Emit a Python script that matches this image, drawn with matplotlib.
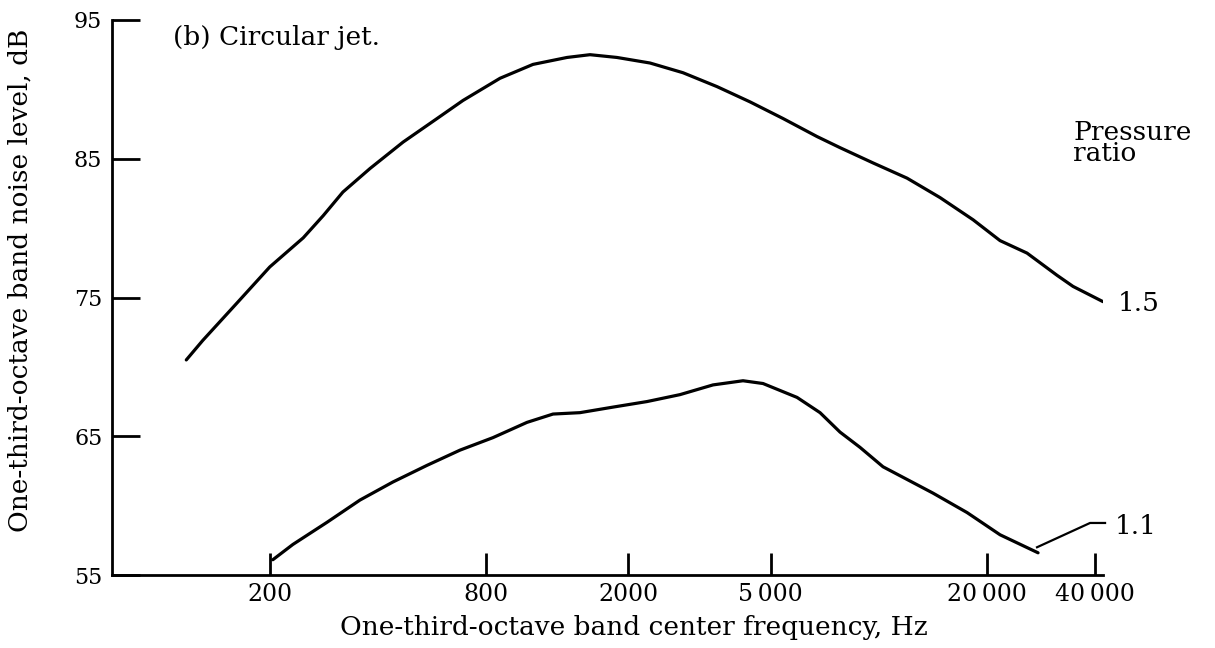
import matplotlib.pyplot as plt

# pressure ratio 1.5 (upper curve)
freq_15 = [117, 130, 162, 200, 248, 282, 320, 381, 471, 586,
           692, 878, 1085, 1350, 1565, 1861, 2301, 2844, 3538, 4374,
           5408, 6728, 7798, 9640, 12000, 14830, 18340, 21800, 25930, 31440,
           34840, 42240]
level_15 = [70.5, 71.9, 74.6, 77.2, 79.3, 80.9, 82.6, 84.3, 86.2, 87.9,
            89.2, 90.8, 91.8, 92.3, 92.5, 92.3, 91.9, 91.2, 90.2, 89.1,
            87.9, 86.6, 85.8, 84.7, 83.6, 82.2, 80.6, 79.1, 78.2, 76.6,
            75.8, 74.7]

# pressure ratio 1.1 (lower curve)
freq_11 = [204, 232, 289, 357, 441, 549, 679, 839, 1044, 1234,
           1467, 1814, 2257, 2790, 3449, 4182, 4756, 5917, 6860, 7798,
           8867, 10280, 14175, 17640, 21800, 27830]
level_11 = [56.1, 57.2, 58.8, 60.4, 61.7, 62.9, 64.0, 64.9, 66.0, 66.6,
            66.7, 67.1, 67.5, 68.0, 68.7, 69.0, 68.8, 67.8, 66.7, 65.3,
            64.2, 62.8, 60.9, 59.5, 57.9, 56.6]

x_ticks = [200, 800, 2000, 5000, 20000, 40000]
x_tick_labels = ['200', '800', '2000', '5\u2009000', '20\u2009000', '40\u2009000']
y_ticks = [55, 65, 75, 85, 95]

plt.rcParams['font.family'] = ['DejaVu Serif', 'DejaVu Sans']

fig = plt.figure(figsize=(12.15, 6.48), dpi=100)
ax = fig.add_axes([112 / 1215, 1 - 575 / 648, 991 / 1215, 555 / 648])

ax.plot(freq_15, level_15, color='black', lw=2.3, solid_capstyle='round')
ax.plot(freq_11, level_11, color='black', lw=2.3, solid_capstyle='round')

# leader line for the 1.1 label
ax.plot([27650, 38870, 42800], [57.0, 58.75, 58.75], color='black', lw=1.6,
        clip_on=False)

ax.set_xscale('log')
ax.set_xlim(72.6, 42240)
ax.set_ylim(55, 95)

ax.set_xticks(x_ticks)
ax.set_xticklabels(x_tick_labels, fontsize=17)
ax.xaxis.set_minor_locator(plt.NullLocator())
ax.set_yticks(y_ticks)
ax.set_yticklabels([str(v) for v in y_ticks], fontsize=16)

ax.tick_params(axis='y', direction='in', length=20, width=2, pad=7)
ax.tick_params(axis='x', direction='in', length=16, width=2, pad=6)

for side in ['top', 'right']:
    ax.spines[side].set_visible(False)
for side in ['left', 'bottom']:
    ax.spines[side].set_linewidth(2)

ax.set_xlabel('One-third-octave band center frequency, Hz', fontsize=19)
ax.xaxis.set_label_coords(0.5267, -0.072)
ax.set_ylabel('One-third-octave band noise level, dB', fontsize=19)
ax.yaxis.set_label_coords(-0.0807, 0.5315)

# annotations
ax.text(0.0616, 0.969, '(b) Circular jet.', transform=ax.transAxes,
        fontsize=19, va='center', ha='left')
ax.text(34840, 87.8, 'Pressure\nratio', fontsize=19, va='top', ha='left',
        linespacing=0.8, clip_on=False)
ax.text(46540, 74.6, '1.5', fontsize=19, va='center', ha='left', clip_on=False)
ax.text(45660, 58.5, '1.1', fontsize=19, va='center', ha='left', clip_on=False)

fig.savefig('out.png', dpi=100)
